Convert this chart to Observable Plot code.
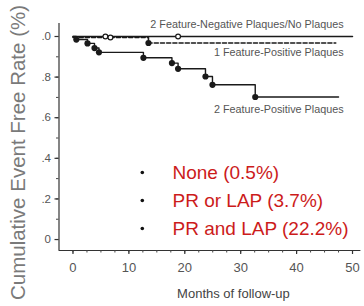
<!DOCTYPE html>
<html>
<head>
<meta charset="utf-8">
<script src="https://cdn.jsdelivr.net/npm/d3@7"></script>
<script src="https://cdn.jsdelivr.net/npm/@observablehq/plot@0.6"></script>
<style>
  html, body { margin: 0; padding: 0; background: #fff; }
  #chart { width: 364px; height: 306px; overflow: hidden; }
</style>
</head>
<body>
<div id="chart"></div>
<script>
// ---- Data ----
// 2 Feature-Negative Plaques / No Plaques (solid line, open circles = censored)
const negMonths = [0, 50];
const negSurv = [1.0, 1.0];
const negCensorMonths = [5.8, 18.8];
const negCensorSurv = [1.0, 1.0];

// 1 Feature-Positive Plaques (dashed line)
const onePosMonths = [0, 13.5, 47];
const onePosSurv = [0.995, 0.968, 0.968];
const onePosEventMonths = [13.5];
const onePosEventSurv = [0.968];
const onePosCensorMonths = [6.7];
const onePosCensorSurv = [0.995];

// 2 Feature-Positive Plaques (solid line, filled dots = events)
const twoPosMonths = [0, 0.6, 2.6, 3.85, 4.65, 12.6, 17.7, 18.8, 23.7, 24.95, 32.6, 47.5];
const twoPosSurv = [1.0, 0.985, 0.966, 0.943, 0.922, 0.895, 0.869, 0.841, 0.803, 0.762, 0.702, 0.702];
const twoPosEventMonths = [0.6, 2.6, 3.85, 4.65, 12.6, 17.7, 18.8, 23.7, 24.95, 32.6];
const twoPosEventSurv = [0.985, 0.966, 0.943, 0.922, 0.895, 0.869, 0.841, 0.803, 0.762, 0.702];

// Curve labels
const curveLabels = ["2 Feature-Negative Plaques/No Plaques", "1 Feature-Positive Plaques", "2 Feature-Positive Plaques"];
const curveLabelMonths = [48.4, 48.4, 48.4];
const curveLabelSurv = [1.059, 0.921, 0.64];

// Red legend (event rates)
const legendLabels = ["None (0.5%)", "PR or LAP (3.7%)", "PR and LAP (22.2%)"];
const legendBulletMonth = 12.4;
const legendTextMonth = 17.8;
const legendSurv = [0.33, 0.192, 0.054];

// Axes
const xTicks = [0, 10, 20, 30, 40, 50];
const xTickLabels = ["0", "10", "20", "30", "40", "50"];
const xMinorTicks = d3.range(0, 50.01, 2.5);
const yTicks = [0, 0.2, 0.4, 0.6, 0.8, 1.0];
const yTickLabels = ["0", ".2", ".4", ".6", ".8", ".0"];
const yMinorTicks = d3.range(0, 1.001, 0.1).map(v => +v.toFixed(2));
const xDomain = [-2.5, 51.5];
const yDomain = [-0.054, 1.064];
const xLabel = "Months of follow-up";
const yLabel = "Cumulative Event Free Rate (%)";

// ---- Build tables ----
const zip = (xs, ys) => xs.map((x, i) => ({x, y: ys[i]}));
const negLine = zip(negMonths, negSurv);
const negCens = zip(negCensorMonths, negCensorSurv);
const oneLine = zip(onePosMonths, onePosSurv);
const oneEv = zip(onePosEventMonths, onePosEventSurv);
const oneCens = zip(onePosCensorMonths, onePosCensorSurv);
const twoLine = zip(twoPosMonths, twoPosSurv);
const twoEv = zip(twoPosEventMonths, twoPosEventSurv);
const curveLab = curveLabels.map((t, i) => ({t, x: curveLabelMonths[i], y: curveLabelSurv[i]}));
const legend = legendLabels.map((t, i) => ({t, y: legendSurv[i]}));

const ink = "#1a1a1a";
const red = "#cc1b1b";

const chart = Plot.plot({
  width: 364,
  height: 306,
  marginLeft: 58.5,
  marginRight: 3.6,
  marginTop: 23,
  marginBottom: 56,
  x: {domain: xDomain},
  y: {domain: yDomain},
  style: {fontFamily: "'Liberation Sans', Arial, sans-serif", background: "#fff", overflow: "visible"},
  marks: [
    // axis lines
    Plot.ruleX([xDomain[0]], {stroke: "#333", strokeWidth: 1.2}),
    Plot.ruleY([yDomain[0]], {stroke: "#333", strokeWidth: 1.2}),
    // x axis
    Plot.axisX({ticks: xMinorTicks, tickSize: 2.5, text: null, stroke: "#444", label: null}),
    Plot.axisX({ticks: xTicks, tickSize: 4, tickPadding: 8, stroke: "#333", strokeWidth: 1.2,
      tickFormat: d => xTickLabels[xTicks.indexOf(d)], fontSize: 13, fill: "#555", label: null}),
    // y axis
    Plot.axisY({ticks: yMinorTicks, tickSize: 2.5, text: null, stroke: "#444", label: null}),
    Plot.axisY({ticks: yTicks, tickSize: 4, tickPadding: 4, stroke: "#333", strokeWidth: 1.2,
      tickFormat: d => yTickLabels[yTicks.indexOf(d)], fontSize: 11.5, fill: "#555", label: null}),
    // axis titles
    Plot.text([xLabel], {frameAnchor: "bottom", dx: 23.5, dy: 43, text: d => d, fontSize: 13, fill: "#444", lineAnchor: "middle"}),
    Plot.text([yLabel], {frameAnchor: "left", dx: -41, dy: 15.5, rotate: -90, text: d => d, textAnchor: "middle", fontSize: 20.5, fill: "#7a7a7a", lineAnchor: "middle"}),
    // curves
    Plot.line(negLine, {x: "x", y: "y", curve: "step-after", stroke: ink, strokeWidth: 1.5}),
    Plot.line(oneLine, {x: "x", y: "y", curve: "step-after", stroke: ink, strokeWidth: 1.6, strokeDasharray: "4,2.2"}),
    Plot.line(twoLine, {x: "x", y: "y", curve: "step-after", stroke: ink, strokeWidth: 1.4}),
    Plot.dot(negCens, {x: "x", y: "y", r: 2.4, fill: "#fff", stroke: ink, strokeWidth: 1.2}),
    Plot.dot(oneCens, {x: "x", y: "y", r: 2.4, fill: "#fff", stroke: ink, strokeWidth: 1.2}),
    Plot.dot(oneEv, {x: "x", y: "y", r: 3.1, fill: ink}),
    Plot.dot(twoEv, {x: "x", y: "y", r: 3.1, fill: ink}),
    // curve labels
    Plot.text(curveLab, {x: "x", y: "y", text: "t", textAnchor: "end", fontSize: 10.8, fill: "#555"}),
    // red legend
    Plot.dot(legend, {x: () => legendBulletMonth, y: "y", r: 1.8, fill: "#111"}),
    Plot.text(legend, {x: () => legendTextMonth, y: "y", text: "t", textAnchor: "start", fontSize: 19, fill: red})
  ]
});
document.getElementById("chart").appendChild(chart);
</script>
</body>
</html>
